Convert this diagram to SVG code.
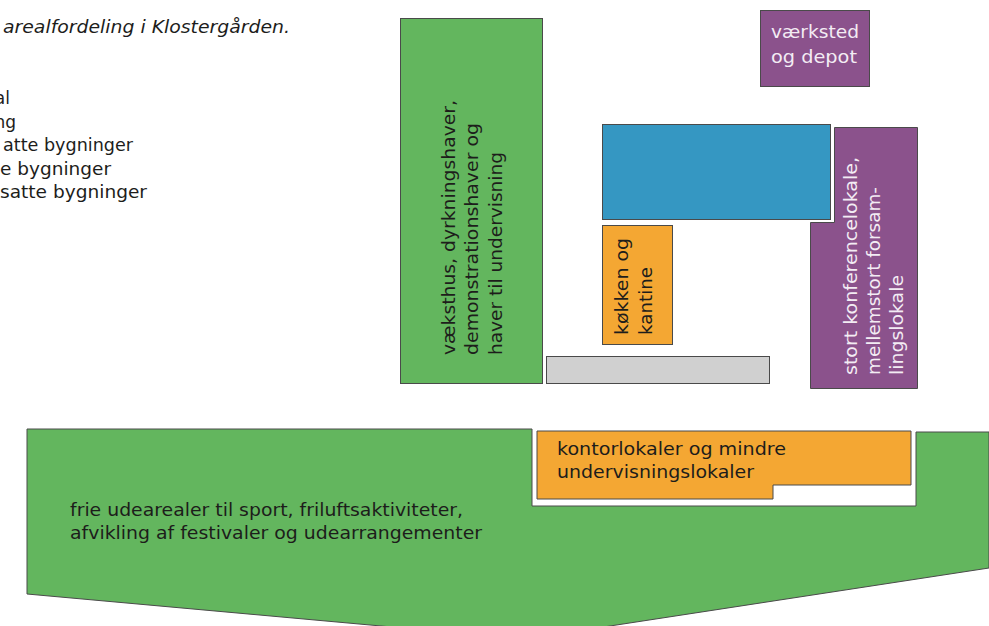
<svg xmlns="http://www.w3.org/2000/svg" width="989" height="626" viewBox="0 0 989 626">
<style>
.t{font-family:"DejaVu Sans","Liberation Sans",sans-serif;font-size:17px;fill:#1d1d1b}
.w{fill:#f3ecf4}
.s{stroke:#4a4a4a;stroke-width:1}
.g{fill:#63b65e}
.o{fill:#f4a733}
.p{fill:#8b528c}
</style>
<rect width="989" height="626" fill="#ffffff"/>
<g id="legend">
<text class="t" x="290" y="33" text-anchor="end" font-style="italic" textLength="287" lengthAdjust="spacingAndGlyphs">arealfordeling i Klostergården.</text>
<text class="t" x="10" y="104" text-anchor="end">al</text>
<text class="t" x="16" y="127.5" text-anchor="end">ng</text>
<text class="t" x="133" y="151" text-anchor="end" textLength="130" lengthAdjust="spacingAndGlyphs">atte bygninger</text>
<text class="t" x="111" y="174.5" text-anchor="end" textLength="111" lengthAdjust="spacingAndGlyphs">e bygninger</text>
<text class="t" x="147" y="198" text-anchor="end" textLength="147" lengthAdjust="spacingAndGlyphs">satte bygninger</text>
</g>
<g id="udearealer">
<path class="g s" d="M27,429 L532,429 L532,506 L916,506 L916,432 L989,432 L989,568 L525,639 L27,594 Z"/>
<text class="t" x="70" y="516" textLength="393" lengthAdjust="spacingAndGlyphs">frie udearealer til sport, friluftsaktiviteter,</text>
<text class="t" x="70" y="539" textLength="412" lengthAdjust="spacingAndGlyphs">afvikling af festivaler og udearrangementer</text>
</g>
<g id="kontor">
<path class="o s" d="M537,431 L911,431 L911,485 L773,485 L773,499 L537,499 Z"/>
<text class="t" x="557" y="455" textLength="229" lengthAdjust="spacingAndGlyphs">kontorlokaler og mindre</text>
<text class="t" x="557" y="478" textLength="197" lengthAdjust="spacingAndGlyphs">undervisningslokaler</text>
</g>
<g id="vaeksthus">
<rect class="g s" x="400.5" y="18.5" width="142" height="365"/>
<g transform="translate(0,355) rotate(-90)">
<text class="t" x="0" y="455" textLength="255" lengthAdjust="spacingAndGlyphs">væksthus, dyrkningshaver,</text>
<text class="t" x="0" y="478" textLength="232" lengthAdjust="spacingAndGlyphs">demonstrationshaver og</text>
<text class="t" x="0" y="502" textLength="203" lengthAdjust="spacingAndGlyphs">haver til undervisning</text>
</g>
</g>
<g id="graa">
<rect class="s" fill="#d0d0d0" x="546.5" y="356.5" width="223" height="27"/>
</g>
<g id="blaa">
<rect class="s" fill="#3597c2" x="602.5" y="124.5" width="228" height="95"/>
</g>
<g id="koekken">
<rect class="o s" x="602.5" y="225.5" width="70" height="119"/>
<g transform="translate(0,335) rotate(-90)">
<text class="t" x="0" y="628" textLength="97" lengthAdjust="spacingAndGlyphs">køkken og</text>
<text class="t" x="0" y="652" textLength="68" lengthAdjust="spacingAndGlyphs">kantine</text>
</g>
</g>
<g id="vaerksted">
<rect class="p s" x="760.5" y="10.5" width="109" height="76"/>
<text class="t w" x="771" y="38" textLength="88" lengthAdjust="spacingAndGlyphs">værksted</text>
<text class="t w" x="771" y="63" textLength="86" lengthAdjust="spacingAndGlyphs">og depot</text>
</g>
<g id="konference">
<path class="p s" d="M834.5,127.5 L917.5,127.5 L917.5,388.5 L810.5,388.5 L810.5,222.5 L834.5,222.5 Z"/>
<g transform="translate(0,375) rotate(-90)">
<text class="t w" x="0" y="857" textLength="218" lengthAdjust="spacingAndGlyphs">stort konferencelokale,</text>
<text class="t w" x="0" y="880" textLength="188" lengthAdjust="spacingAndGlyphs">mellemstort forsam-</text>
<text class="t w" x="0" y="903" textLength="100" lengthAdjust="spacingAndGlyphs">lingslokale</text>
</g>
</g>
<g id="connectors"></g>
</svg>
